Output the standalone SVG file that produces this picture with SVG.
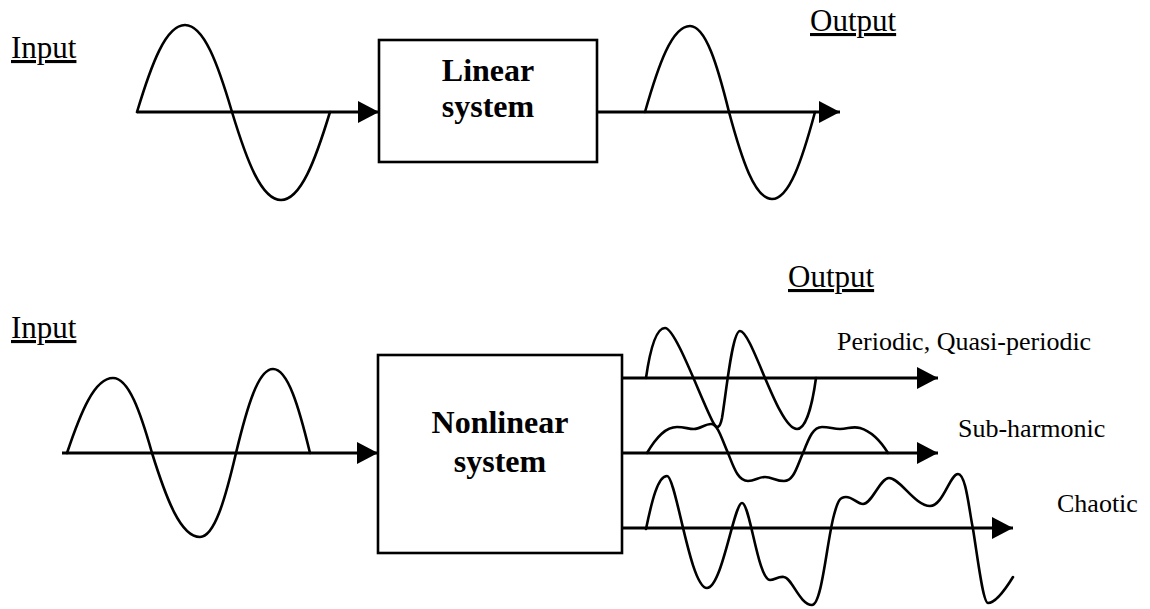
<svg xmlns="http://www.w3.org/2000/svg" width="1150" height="609" viewBox="0 0 1150 609">
  <style>
    .lbl { font-family: "Liberation Serif", "Times New Roman", serif; fill: #000; }
    .io { font-size: 31px; text-decoration: underline; }
    .sub { font-size: 26px; }
    .box-text { font-size: 32px; font-weight: bold; text-anchor: middle; }
    .box { fill: #fff; stroke: #000; stroke-width: 2.6; }
    .axis { fill: none; stroke: #000; stroke-width: 3; }
    .wave { fill: none; stroke: #000; stroke-width: 2.6; stroke-linejoin: round; stroke-linecap: round; }
  </style>
  <defs>
    <marker id="arrow" markerUnits="userSpaceOnUse" markerWidth="22" markerHeight="22" refX="21" refY="11" orient="auto">
      <path d="M0,0 L21,11 L0,22 z" fill="#000"/>
    </marker>
  </defs>
  <rect width="1150" height="609" fill="#fff"/>

  <!-- signals -->
  <g id="signals">
    <path class="wave" d="M137,112 C151.4,64.2 165.8,25 185,25 C203.8,25 217.9,64.1 232,112 C246.7,160.4 261.4,200 281,200 C300.6,200 315.3,160.4 330,112"/>
    <path class="wave" d="M645,112 C658.5,64.7 672,26 690,26 C705.6,26 717.3,64.7 729,112 C741.9,159.9 754.8,199 772,199 C789.2,199 802.1,159.9 815,112"/>
    <path class="wave" d="M67,453 C80.8,411.8 94.6,378 113,378 C128.6,378 140.3,411.8 152,453 C166.4,499.2 180.8,537 200,537 C214.4,537 225.2,499.2 236,453 C247.1,406.8 258.2,369 273,369 C287.8,369 298.9,406.8 310,453"/>
    <path class="wave" d="M646,378 C650,350 656,328 665,328 C676,328 703,405 714,424 C717,429 720,428 722,418 C726,395 732,331 740,331 C752,331 778,429 797,429 C807,429 813,400 816,378"/>
    <path class="wave" d="M647,453 C657,436 666,427 677,427 C685,427 688,429 694,429 C700,429 705,424 711,424 C718,424 722,440 728,453 C734,468 738,481 748,481 C755,481 758,477 765,477 C772,477 776,481 784,481 C794,481 797,466 803,453 C809,438 813,427 822,427 C830,427 833,429 840,429 C848,429 852,426 860,428 C870,431 880,440 888,453"/>
    <path class="wave" d="M646,529 C652,500 658,476 667,476 C676,476 690,588 707,588 C722,588 734,503 742,503 C750,503 758,580 770,580 C775,580 778,576 784,577 C792,578 800,605 812,605 C822,605 827,540 834,515 C838,500 840,497 846,497 C853,497 857,504 863,504 C872,504 880,478 889,478 C900,478 915,506 930,506 C943,506 950,474 958,474 C966,474 969,510 973,529 C978,560 983,603 988,603 C995,603 1005,590 1013,577"/>
  </g>

  <!-- connectors -->
  <g id="connectors">
    <line class="axis" x1="137" y1="112" x2="379" y2="112" marker-end="url(#arrow)"/>
    <line class="axis" x1="597" y1="112" x2="840" y2="112" marker-end="url(#arrow)"/>
    <line class="axis" x1="62" y1="453" x2="378" y2="453" marker-end="url(#arrow)"/>
    <line class="axis" x1="622" y1="378" x2="938" y2="378" marker-end="url(#arrow)"/>
    <line class="axis" x1="622" y1="453" x2="938" y2="453" marker-end="url(#arrow)"/>
    <line class="axis" x1="622" y1="528" x2="1013" y2="528" marker-end="url(#arrow)"/>
  </g>

  <!-- nodes -->
  <g id="linear-system">
    <rect class="box" x="379" y="40" width="218" height="122"/>
    <text class="lbl box-text" x="488" y="81">Linear</text>
    <text class="lbl box-text" x="488" y="117">system</text>
  </g>
  <g id="nonlinear-system">
    <rect class="box" x="378" y="355" width="244" height="198"/>
    <text class="lbl box-text" x="500" y="433">Nonlinear</text>
    <text class="lbl box-text" x="500" y="472">system</text>
  </g>

  <!-- labels -->
  <g id="label-input-top"><text class="lbl io" x="11" y="58">Input</text></g>
  <g id="label-output-top"><text class="lbl io" x="810" y="31">Output</text></g>
  <g id="label-input-bottom"><text class="lbl io" x="11" y="338">Input</text></g>
  <g id="label-output-bottom"><text class="lbl io" x="788" y="287">Output</text></g>
  <g id="label-periodic"><text class="lbl sub" x="837" y="350">Periodic, Quasi-periodic</text></g>
  <g id="label-subharmonic"><text class="lbl sub" x="958" y="437">Sub-harmonic</text></g>
  <g id="label-chaotic"><text class="lbl sub" x="1057" y="512">Chaotic</text></g>
</svg>
